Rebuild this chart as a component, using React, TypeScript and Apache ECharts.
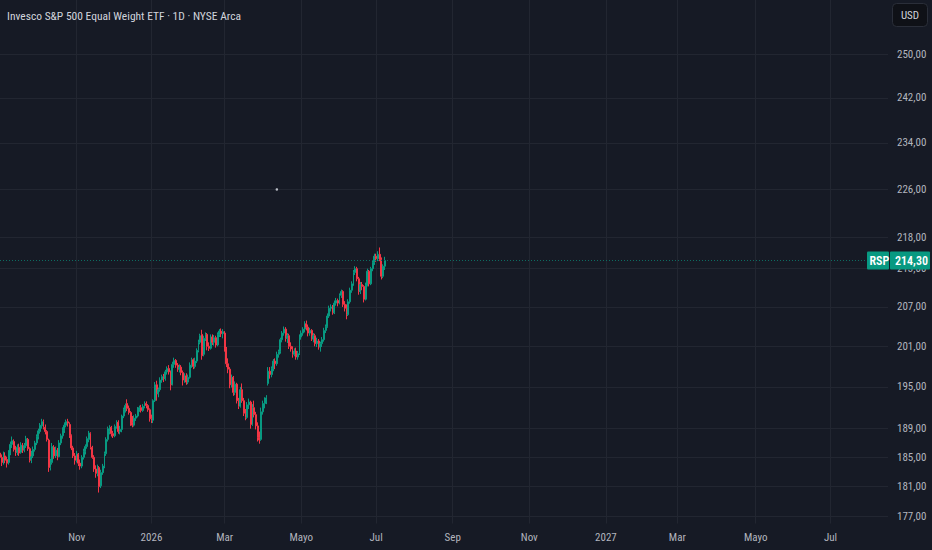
import { useEffect, useRef } from 'react';
import * as echarts from 'echarts';

const TITLE = 'Invesco S&P 500 Equal Weight ETF · 1D · NYSE Arca';
const SYMBOL = 'RSP';
const CURRENCY = 'USD';
const START_DATE = '2025-09-02';
const AXIS_BARS = 511;
const MONTHS_ES = ['Ene', 'Feb', 'Mar', 'Abr', 'Mayo', 'Jun', 'Jul', 'Ago', 'Sep', 'Oct', 'Nov', 'Dic'];
const PRICE_TICKS = [177, 181, 185, 189, 195, 201, 207, 213, 218, 226, 234, 242, 250];
const PRICE_MIN = 176.08;
const PRICE_MAX = 260.35;
const LAST_PRICE = 214.3;
const MARKER_INDEX = 159;
const MARKER_PRICE = 226.0;

// [open, close, low, high]
const OHLC: number[][] = [
  [185.6, 185.0, 184.4, 186.0], [185.0, 184.3, 183.8, 185.4], [184.4, 185.3, 184.0, 185.8], [185.2, 184.6, 184.2, 185.7],
  [184.7, 184.2, 183.6, 185.1], [184.3, 185.6, 184.0, 186.0], [185.6, 186.8, 185.3, 187.2], [186.8, 187.3, 186.3, 187.9],
  [187.2, 186.1, 185.8, 187.5], [186.0, 185.7, 185.2, 186.6], [185.7, 186.4, 185.3, 186.8], [186.4, 185.6, 185.2, 186.9],
  [185.7, 186.7, 185.5, 187.1], [186.6, 186.0, 185.6, 187.0], [186.1, 186.6, 185.7, 187.0], [186.6, 187.6, 186.3, 188.0],
  [187.5, 186.2, 185.9, 187.7], [186.2, 184.6, 184.3, 186.4], [184.7, 185.1, 184.2, 185.9], [185.2, 186.1, 184.9, 186.5],
  [186.1, 187.0, 185.8, 187.3], [187.0, 187.9, 186.7, 188.2], [187.9, 188.7, 187.5, 189.0], [188.6, 189.5, 188.3, 189.8],
  [189.4, 190.0, 189.0, 190.4], [190.0, 189.2, 188.9, 190.3], [189.2, 188.6, 188.2, 189.6], [188.6, 187.5, 187.2, 188.8],
  [187.4, 183.6, 183.0, 187.6], [183.6, 184.2, 183.2, 184.8], [184.3, 186.5, 184.0, 187.0], [186.4, 185.2, 184.8, 186.7],
  [185.2, 186.0, 184.9, 186.5], [186.0, 185.0, 184.6, 186.3], [185.1, 187.0, 185.0, 187.4], [187.0, 188.0, 186.7, 188.3],
  [188.0, 188.8, 187.6, 189.2], [188.8, 189.5, 188.4, 189.9], [189.5, 190.0, 189.2, 190.3], [190.0, 189.8, 189.3, 190.4],
  [189.6, 188.0, 187.7, 189.9], [188.0, 186.3, 186.0, 188.2], [186.3, 185.2, 184.9, 186.6], [185.2, 184.6, 184.0, 185.6],
  [184.6, 185.5, 184.3, 185.9], [185.4, 184.2, 183.8, 185.6], [184.2, 183.8, 183.3, 184.7], [183.8, 185.0, 183.5, 185.3],
  [185.0, 185.8, 184.7, 186.2], [185.8, 186.5, 185.4, 186.8], [186.5, 187.6, 186.2, 187.9], [187.5, 188.4, 187.1, 188.7],
  [188.3, 186.4, 186.1, 188.5], [186.4, 185.0, 184.8, 186.6], [185.0, 183.4, 183.0, 185.3], [183.4, 182.8, 182.2, 183.9],
  [182.8, 183.5, 182.4, 184.0], [183.6, 181.0, 180.2, 183.8], [181.1, 182.9, 180.8, 183.3], [182.9, 183.8, 182.6, 184.1],
  [183.8, 185.5, 183.5, 185.8], [185.5, 187.5, 185.2, 187.8], [187.5, 189.0, 187.2, 189.3], [188.6, 189.2, 188.2, 189.5],
  [189.2, 188.3, 187.9, 189.4], [188.3, 188.0, 187.7, 188.7], [188.0, 189.3, 187.8, 189.6], [189.3, 189.9, 189.0, 190.2],
  [189.9, 188.6, 188.3, 190.2], [188.6, 188.9, 188.2, 189.4], [188.9, 190.8, 188.5, 191.0], [190.8, 191.7, 190.5, 192.0],
  [191.7, 192.3, 191.3, 192.6], [192.6, 191.9, 191.5, 193.2], [191.9, 191.3, 191.0, 192.3], [191.3, 189.8, 189.4, 191.5],
  [189.9, 189.5, 189.2, 190.8], [189.5, 190.5, 189.3, 190.9], [190.5, 190.8, 190.1, 191.1], [190.8, 191.8, 190.6, 192.1],
  [191.8, 192.0, 191.4, 192.3], [192.0, 191.6, 191.3, 192.4], [191.6, 192.2, 191.4, 192.5], [192.2, 192.6, 191.9, 192.9],
  [192.6, 192.3, 191.9, 192.9], [192.3, 191.7, 191.4, 192.5], [191.7, 190.4, 190.0, 191.9], [190.4, 190.2, 189.8, 191.0],
  [190.2, 193.0, 189.8, 193.2], [193.0, 195.3, 192.8, 195.7], [195.3, 194.0, 193.0, 195.9], [194.0, 194.6, 193.5, 194.9],
  [194.6, 196.0, 194.3, 196.4], [196.0, 196.5, 195.6, 196.8], [196.5, 196.2, 195.7, 196.9], [196.2, 197.2, 195.9, 197.5],
  [197.2, 197.7, 196.8, 198.0], [197.7, 197.2, 196.8, 198.2], [197.2, 195.3, 194.5, 197.4], [195.4, 198.3, 195.2, 198.7],
  [198.3, 198.9, 197.8, 199.3], [198.9, 198.2, 197.8, 199.1], [198.2, 197.6, 197.2, 198.5], [197.6, 197.9, 197.1, 198.3],
  [197.9, 197.1, 196.7, 198.2], [197.1, 196.0, 195.2, 197.4], [196.0, 196.6, 195.6, 197.0], [196.6, 195.7, 195.3, 197.0],
  [195.7, 196.4, 195.4, 196.8], [196.4, 198.2, 196.2, 198.6], [198.2, 199.0, 197.8, 199.3], [199.0, 198.0, 197.6, 199.2],
  [198.0, 198.8, 197.7, 199.3], [198.8, 200.4, 198.5, 200.7], [200.4, 201.6, 200.1, 202.0], [201.6, 202.6, 201.3, 202.9],
  [202.8, 199.6, 199.0, 203.5], [199.8, 202.2, 199.5, 202.6], [202.2, 202.8, 201.8, 203.1], [202.8, 201.0, 200.4, 203.0],
  [201.0, 200.7, 200.3, 201.6], [200.7, 202.4, 200.5, 202.8], [202.4, 201.6, 201.2, 202.8], [201.6, 202.3, 201.1, 202.7],
  [202.3, 201.2, 200.8, 202.6], [201.2, 202.8, 201.0, 203.1], [202.8, 203.3, 202.4, 203.6], [203.3, 202.9, 202.4, 203.7],
  [202.9, 203.2, 202.2, 203.6], [203.0, 200.6, 200.2, 203.3], [200.6, 198.4, 197.9, 200.9], [198.4, 197.6, 197.0, 199.2],
  [197.6, 195.3, 194.8, 197.9], [195.3, 196.4, 194.9, 196.8], [196.4, 194.2, 193.7, 196.6], [194.2, 195.4, 193.8, 195.8],
  [195.4, 193.0, 192.6, 195.6], [193.0, 192.2, 191.8, 193.4], [192.2, 194.6, 192.0, 195.0], [194.6, 193.0, 192.7, 195.5],
  [193.0, 191.2, 190.8, 193.4], [191.2, 190.6, 190.2, 191.8], [190.6, 192.4, 190.4, 192.8], [192.4, 192.8, 191.8, 193.3],
  [192.8, 189.6, 189.0, 193.0], [189.6, 192.0, 189.4, 192.5], [192.0, 191.0, 190.6, 193.0], [191.0, 189.4, 188.9, 191.4],
  [189.4, 187.8, 187.2, 189.9], [187.8, 187.4, 186.9, 188.6], [187.5, 191.4, 187.3, 192.0], [191.4, 192.6, 191.0, 193.0],
  [192.6, 193.1, 191.9, 193.5], [193.1, 193.4, 192.5, 193.8], [195.5, 197.3, 195.2, 197.9], [197.3, 196.8, 196.2, 197.9],
  [196.8, 197.7, 196.4, 198.0], [197.7, 198.8, 197.3, 199.1], [198.8, 198.4, 197.6, 199.2], [198.4, 199.8, 198.1, 200.2],
  [199.8, 200.2, 199.3, 200.5], [200.2, 202.0, 199.9, 202.3], [202.0, 203.0, 201.6, 203.3], [203.0, 203.6, 202.6, 204.0],
  [203.6, 202.2, 201.7, 203.9], [202.2, 202.6, 201.5, 203.0], [202.6, 201.0, 200.6, 202.9], [201.0, 200.6, 200.2, 201.6],
  [200.6, 199.8, 199.3, 201.0], [199.8, 200.3, 199.5, 200.7], [200.3, 199.4, 199.0, 200.8], [199.4, 199.9, 199.0, 200.3],
  [199.9, 202.4, 199.7, 202.8], [202.4, 203.0, 202.0, 203.4], [203.0, 203.6, 202.6, 203.9], [203.6, 204.4, 203.1, 204.8],
  [204.4, 203.9, 203.4, 204.9], [203.9, 203.0, 202.5, 204.3], [203.0, 203.4, 202.6, 203.8], [203.4, 202.1, 201.8, 203.6],
  [202.1, 202.6, 201.6, 203.0], [202.6, 201.4, 201.0, 202.9], [201.4, 201.8, 200.9, 202.3], [201.8, 200.9, 200.5, 202.1],
  [200.9, 201.4, 200.2, 201.7], [201.4, 202.0, 200.9, 202.4], [202.0, 203.4, 201.7, 203.8], [203.4, 204.0, 203.0, 204.3],
  [204.0, 205.6, 203.8, 206.0], [205.6, 206.8, 205.3, 207.2], [206.8, 207.0, 206.3, 207.4], [207.0, 206.1, 205.8, 207.3],
  [206.1, 207.6, 205.9, 208.0], [207.6, 208.0, 207.2, 208.4], [208.0, 207.6, 207.1, 208.3], [207.6, 208.8, 207.4, 209.1],
  [208.8, 209.4, 208.4, 209.7], [209.4, 207.4, 207.0, 209.6], [207.4, 206.8, 206.3, 207.9], [206.8, 205.8, 205.1, 207.4],
  [205.8, 207.8, 205.6, 208.2], [207.8, 209.6, 207.5, 210.0], [209.6, 210.6, 209.2, 211.0], [210.6, 212.4, 210.3, 212.8],
  [212.4, 213.0, 212.0, 213.4], [213.0, 211.4, 211.0, 213.3], [211.4, 209.4, 208.9, 211.7], [209.4, 210.5, 209.0, 210.9],
  [210.5, 210.2, 209.6, 210.9], [210.2, 208.2, 207.7, 210.4], [208.2, 210.4, 208.0, 210.8], [210.4, 212.6, 210.2, 213.0],
  [212.6, 210.6, 210.2, 212.8], [210.6, 213.0, 210.4, 213.3], [213.0, 214.0, 212.6, 214.3], [214.0, 215.0, 213.6, 215.4],
  [215.0, 214.6, 214.1, 215.4], [214.6, 215.3, 214.2, 215.8], [215.3, 214.5, 214.2, 216.4], [214.5, 211.8, 211.3, 214.8],
  [211.8, 213.4, 211.5, 213.7], [213.4, 214.3, 212.8, 214.9],
];

const BG = '#161a25';
const GRID = '#222631';
const TEXT = '#b2b5be';
const UP = '#089981';
const DOWN = '#f23645';
const LAST_LINE = '#0d6c61';
const FONT = "'Liberation Sans Narrow', 'Arial Narrow', 'Roboto Condensed', 'DejaVu Sans Condensed', sans-serif";

function makeWeekdays(start: string, count: number): string[] {
  const out: string[] = [];
  const d = new Date(start + 'T00:00:00Z');
  while (out.length < count) {
    const wd = d.getUTCDay();
    if (wd !== 0 && wd !== 6) out.push(d.toISOString().slice(0, 10));
    d.setUTCDate(d.getUTCDate() + 1);
  }
  return out;
}

export default function App() {
  const ref = useRef<HTMLDivElement>(null);
  useEffect(() => {
    document.body.style.margin = '0';
    document.body.style.background = BG;
    const chart = echarts.init(ref.current!, null, { renderer: 'svg' });
    const dates = makeWeekdays(START_DATE, AXIS_BARS);
    const isMark = (i: number) => {
      if (i <= 0 || i >= dates.length) return false;
      const m = +dates[i].slice(5, 7);
      const pm = +dates[i - 1].slice(5, 7);
      return m !== pm && m % 2 === 1;
    };
    const fmtLabel = (v: string) => {
      const m = +v.slice(5, 7);
      return m === 1 ? v.slice(0, 4) : MONTHS_ES[m - 1];
    };
    const tag = (text: string, distance: number, width: number, padH: number) => ({
      show: true,
      position: 'end',
      distance: distance,
      formatter: text,
      color: '#ffffff',
      fontSize: 12,
      fontWeight: 600,
      fontFamily: FONT,
      backgroundColor: UP,
      opacity: 1,
      padding: [3, padH, 3, padH],
      width: width,
      lineHeight: 12,
      borderRadius: 1,
    });
    chart.setOption({
      animation: false,
      backgroundColor: BG,
      title: {
        text: TITLE,
        left: 7,
        top: 9,
        padding: 0,
        textStyle: { color: '#d1d4dc', fontSize: 11.5, fontWeight: 'normal', fontFamily: FONT, lineHeight: 13 },
      },
      grid: { left: 0, right: 44, top: 0, bottom: 26.5 },
      xAxis: {
        type: 'category',
        data: dates,
        boundaryGap: false,
        axisLine: { show: false },
        axisTick: { show: false },
        axisLabel: {
          interval: (i: number) => isMark(i),
          formatter: (v: string) => fmtLabel(v),
          color: TEXT,
          fontSize: 11,
          fontFamily: FONT,
          margin: 8,
          hideOverlap: false,
        },
        splitLine: { show: true, interval: (i: number) => isMark(i), lineStyle: { color: GRID, width: 1 } },
      },
      yAxis: {
        type: 'log',
        logBase: 10,
        min: PRICE_MIN,
        max: PRICE_MAX,
        position: 'right',
        axisLine: { show: false },
        axisTick: { show: false, customValues: PRICE_TICKS },
        axisLabel: {
          customValues: PRICE_TICKS,
          formatter: (v: number) => v.toFixed(2).replace('.', ','),
          color: TEXT,
          fontSize: 11,
          fontFamily: FONT,
          margin: 9,
        },
        splitLine: { show: true, lineStyle: { color: GRID, width: 1 } },
      },
      graphic: [
        {
          type: 'rect',
          shape: { x: 892.5, y: 3.5, width: 35, height: 23, r: 4 },
          style: { fill: '#0f1117', stroke: '#2a2e39', lineWidth: 1 },
        },
        {
          type: 'text',
          x: 910,
          y: 15,
          style: { text: CURRENCY, fill: '#d1d4dc', fontSize: 11, fontFamily: FONT, align: 'center', verticalAlign: 'middle' },
        },
      ],
      series: [
        {
          type: 'candlestick',
          data: OHLC,
          barWidth: 1.4,
          itemStyle: { color: UP, color0: DOWN, borderColor: UP, borderColor0: DOWN, borderWidth: 1 },
          markLine: {
            silent: true,
            symbol: ['none', 'none'],
            lineStyle: { type: [1, 2], color: LAST_LINE, width: 1 },
            data: [
              { yAxis: LAST_PRICE, label: tag(SYMBOL, -21, 17, 2.5) },
              { yAxis: LAST_PRICE, label: tag(LAST_PRICE.toFixed(2).replace('.', ','), 2, 30, 5) },
            ],
          },
        },
        {
          type: 'scatter',
          data: [[dates[MARKER_INDEX], MARKER_PRICE]],
          symbolSize: 2.5,
          silent: true,
          itemStyle: { color: '#e0e3eb' },
        },
      ],
    });
    return () => chart.dispose();
  }, []);
  return <div ref={ref} style={{ width: 932, height: 550 }} />;
}
